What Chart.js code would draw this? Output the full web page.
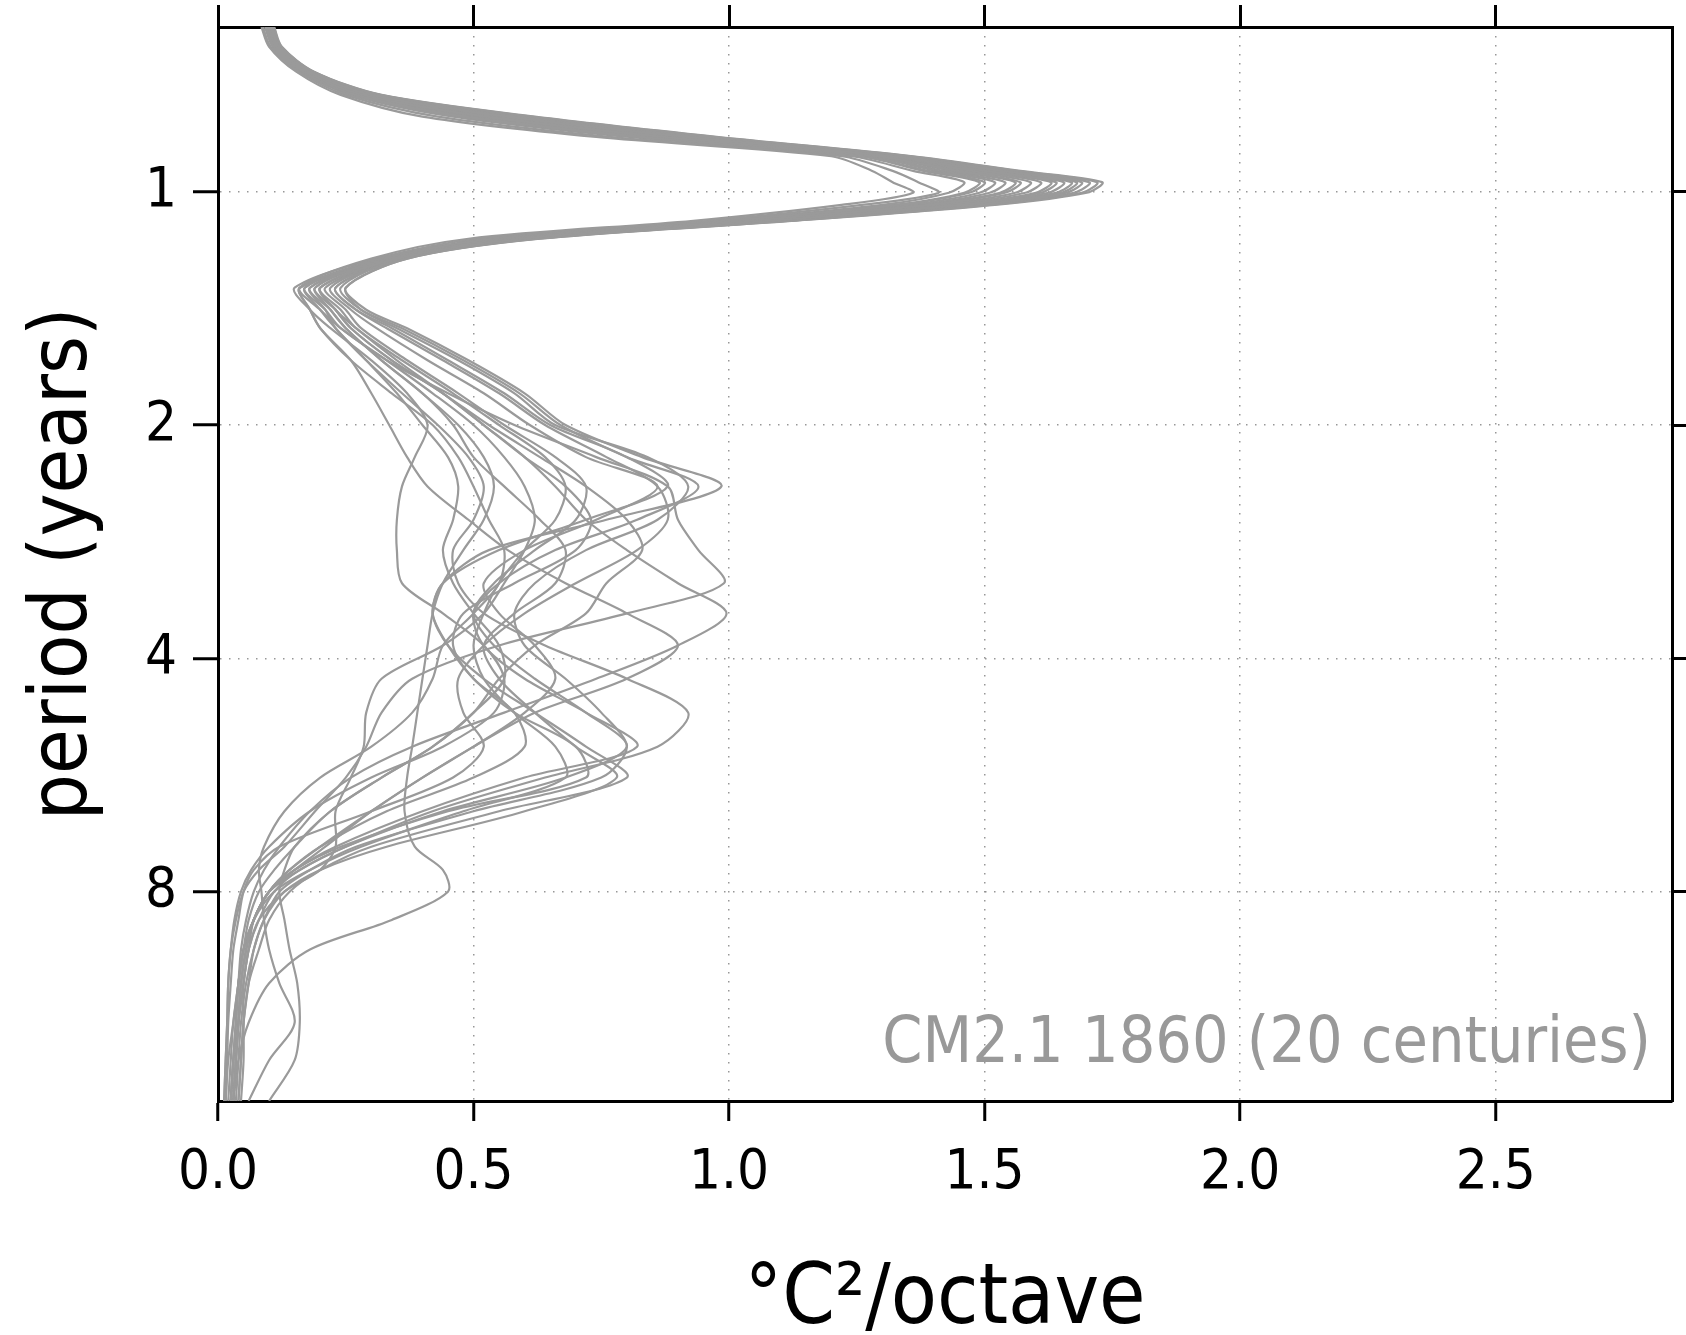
<!DOCTYPE html>
<html><head><meta charset="utf-8">
<script src="https://cdn.jsdelivr.net/npm/chart.js@4"></script>
<style>html,body{margin:0;padding:0;background:#fff;}canvas{display:block;}</style>
</head><body>
<canvas id="c" width="1686" height="1335"></canvas>
<script>
// period grid (years) shared by every century's spectrum
const periods = [0.613,0.65,0.7,0.75,0.8,0.85,0.9,0.94,0.972,1.003,1.04,1.09,1.15,1.22,1.33,1.42,1.5,1.65,1.82,2.0,2.2,2.4,2.65,2.9,3.2,3.5,3.85,4.25,4.7,5.2,5.7,6.3,7.0,7.5,8.0,8.7,9.5,10.5,11.8,13.2,14.9];

// variance (°C²/octave) for each of the 20 centuries, at the periods above
const c01 = [0.11,0.125,0.188,0.32,0.62,0.98,1.36,1.57,1.73,1.70,1.52,1.13,0.63,0.37,0.25,0.29,0.37,0.49,0.6,0.68,0.83,0.985,0.76,0.53,0.44,0.42,0.45,0.5,0.58,0.7,0.72,0.45,0.24,0.15,0.1,0.07,0.055,0.045,0.04,0.035,0.03];
const c02 = [0.085,0.10,0.153,0.24,0.40,0.74,1.2,1.28,1.32,1.36,1.22,0.93,0.49,0.30,0.16,0.2,0.24,0.33,0.45,0.58,0.74,0.88,0.9,0.94,0.99,0.8,0.55,0.38,0.32,0.29,0.25,0.19,0.13,0.08,0.05,0.035,0.025,0.02,0.018,0.015,0.012];
const c03 = [0.104,0.119,0.18,0.30,0.567,0.92,1.32,1.50,1.64,1.61,1.45,1.08,0.596,0.35,0.2,0.23,0.27,0.35,0.44,0.52,0.6,0.66,0.72,0.8,0.9,0.995,0.9,0.74,0.56,0.38,0.26,0.18,0.12,0.09,0.07,0.055,0.045,0.04,0.035,0.03,0.025];
const c04 = [0.099,0.114,0.173,0.285,0.525,0.876,1.29,1.445,1.57,1.54,1.39,1.04,0.57,0.34,0.18,0.21,0.23,0.29,0.36,0.43,0.49,0.52,0.5,0.46,0.47,0.52,0.64,0.8,0.92,0.86,0.64,0.42,0.25,0.16,0.11,0.08,0.06,0.05,0.04,0.035,0.03];
const c05 = [0.088,0.103,0.158,0.25,0.43,0.77,1.22,1.32,1.37,1.41,1.26,0.96,0.51,0.31,0.15,0.18,0.22,0.3,0.37,0.41,0.385,0.36,0.35,0.35,0.36,0.44,0.52,0.56,0.54,0.44,0.3,0.18,0.1,0.065,0.045,0.032,0.025,0.02,0.018,0.015,0.012];
const c06 = [0.094,0.109,0.166,0.27,0.483,0.83,1.26,1.39,1.50,1.47,1.33,1.0,0.54,0.33,0.19,0.22,0.25,0.32,0.4,0.47,0.52,0.54,0.52,0.48,0.44,0.42,0.41,0.4,0.39,0.38,0.37,0.365,0.385,0.44,0.45,0.34,0.18,0.1,0.06,0.04,0.03];
const c07 = [0.107,0.122,0.183,0.31,0.59,0.95,1.34,1.53,1.68,1.65,1.48,1.10,0.61,0.36,0.24,0.28,0.36,0.48,0.59,0.67,0.8,0.94,0.82,0.66,0.55,0.5,0.52,0.6,0.72,0.82,0.6,0.4,0.23,0.15,0.1,0.07,0.055,0.045,0.04,0.035,0.03];
const c08 = [0.092,0.107,0.162,0.26,0.46,0.805,1.24,1.36,1.46,1.43,1.30,0.98,0.53,0.32,0.17,0.21,0.24,0.33,0.42,0.5,0.56,0.6,0.62,0.6,0.56,0.52,0.44,0.32,0.29,0.285,0.26,0.23,0.23,0.2,0.13,0.08,0.06,0.05,0.04,0.03,0.025];
const c09 = [0.102,0.117,0.177,0.294,0.55,0.90,1.31,1.476,1.61,1.58,1.42,1.065,0.585,0.35,0.2,0.23,0.26,0.34,0.44,0.53,0.63,0.72,0.8,0.83,0.76,0.72,0.62,0.55,0.5,0.42,0.32,0.22,0.15,0.11,0.08,0.06,0.05,0.04,0.035,0.03,0.025];
const c10 = [0.107,0.122,0.184,0.31,0.596,0.954,1.343,1.54,1.69,1.66,1.49,1.11,0.615,0.36,0.23,0.27,0.34,0.45,0.56,0.65,0.8,0.88,0.72,0.55,0.44,0.42,0.45,0.52,0.62,0.72,0.8,0.55,0.3,0.2,0.14,0.1,0.08,0.06,0.05,0.045,0.04];
const c11 = [0.096,0.111,0.168,0.275,0.495,0.844,1.27,1.405,1.52,1.49,1.35,1.016,0.55,0.33,0.18,0.22,0.25,0.32,0.4,0.46,0.5,0.56,0.63,0.68,0.66,0.58,0.52,0.55,0.62,0.7,0.78,0.6,0.33,0.2,0.13,0.09,0.07,0.055,0.045,0.04,0.035];
const c12 = [0.105,0.12,0.181,0.304,0.575,0.93,1.33,1.51,1.655,1.625,1.46,1.09,0.6,0.355,0.22,0.26,0.31,0.41,0.52,0.61,0.72,0.86,0.74,0.6,0.52,0.55,0.62,0.66,0.6,0.5,0.4,0.3,0.2,0.14,0.1,0.07,0.05,0.04,0.035,0.03,0.025];
const c13 = [0.097,0.112,0.17,0.279,0.507,0.857,1.278,1.42,1.54,1.51,1.366,1.027,0.558,0.33,0.16,0.18,0.2,0.26,0.3,0.335,0.37,0.41,0.49,0.567,0.68,0.8,0.9,0.8,0.62,0.5,0.4,0.3,0.21,0.15,0.1,0.07,0.055,0.045,0.04,0.035,0.03];
const c14 = [0.109,0.124,0.187,0.318,0.614,0.974,1.356,1.562,1.72,1.69,1.51,1.125,0.626,0.37,0.25,0.28,0.35,0.47,0.58,0.66,0.84,0.92,0.86,0.72,0.62,0.58,0.6,0.68,0.75,0.8,0.75,0.5,0.27,0.18,0.12,0.09,0.07,0.06,0.05,0.045,0.04];
const c15 = [0.094,0.109,0.165,0.268,0.477,0.824,1.256,1.38,1.49,1.46,1.325,1.0,0.54,0.325,0.17,0.2,0.23,0.29,0.35,0.4,0.45,0.47,0.46,0.44,0.46,0.5,0.55,0.56,0.5,0.42,0.32,0.22,0.15,0.13,0.12,0.13,0.14,0.155,0.16,0.15,0.1];
const c16 = [0.103,0.118,0.179,0.298,0.56,0.915,1.317,1.492,1.63,1.60,1.44,1.076,0.59,0.35,0.2,0.24,0.27,0.36,0.46,0.55,0.64,0.68,0.66,0.6,0.55,0.52,0.5,0.52,0.58,0.66,0.68,0.48,0.28,0.18,0.11,0.07,0.05,0.04,0.03,0.02,0.015];
const c17 = [0.101,0.116,0.175,0.29,0.537,0.89,1.3,1.46,1.59,1.56,1.407,1.054,0.577,0.34,0.19,0.23,0.26,0.34,0.44,0.52,0.6,0.68,0.73,0.7,0.58,0.48,0.46,0.5,0.58,0.6,0.5,0.33,0.2,0.14,0.1,0.07,0.06,0.05,0.05,0.05,0.045];
const c18 = [0.106,0.121,0.182,0.307,0.584,0.94,1.334,1.523,1.67,1.64,1.47,1.1,0.607,0.36,0.21,0.25,0.28,0.37,0.47,0.56,0.66,0.72,0.7,0.62,0.54,0.5,0.54,0.62,0.72,0.8,0.68,0.44,0.25,0.16,0.1,0.07,0.05,0.04,0.03,0.025,0.02];
const c19 = [0.099,0.114,0.172,0.283,0.52,0.87,1.286,1.437,1.56,1.53,1.38,1.038,0.566,0.335,0.16,0.18,0.2,0.26,0.34,0.42,0.47,0.5,0.53,0.56,0.55,0.5,0.44,0.42,0.38,0.3,0.2,0.13,0.09,0.08,0.085,0.09,0.1,0.12,0.15,0.1,0.06];
const c20 = [0.108,0.123,0.186,0.315,0.605,0.964,1.35,1.55,1.705,1.675,1.50,1.116,0.62,0.365,0.23,0.27,0.33,0.44,0.55,0.64,0.76,0.86,0.88,0.82,0.7,0.6,0.52,0.47,0.48,0.52,0.46,0.3,0.12,0.07,0.05,0.04,0.03,0.025,0.02,0.018,0.015];

// tick labels / texts
const xTickValues = [0, 0.5, 1.0, 1.5, 2.0, 2.5];
const yTickValues = [1, 2, 4, 8];
const xTitle = '°C²/octave';
const yTitle = 'period (years)';
const annotationText = 'CM2.1 1860 (20 centuries)';

const FONT = '"DejaVu Sans Condensed", "Liberation Sans Narrow", "DejaVu Sans", sans-serif';
const X_MIN = 0, X_MAX = 2.845, Y_MIN = 0.613, Y_MAX = 14.9;
const LINE = '#9a9a9a';

const seriesList = [c01,c02,c03,c04,c05,c06,c07,c08,c09,c10,c11,c12,c13,c14,c15,c16,c17,c18,c19,c20];
const datasets = seriesList.map((s, k) => ({
  label: 'century ' + (k + 1),
  data: s.map((v, i) => ({x: v, y: periods[i]})),
  borderColor: LINE,
  borderWidth: 2.2,
  pointRadius: 0,
  showLine: true,
  tension: 0.3,
  fill: false
}));

const annotationPlugin = {
  id: 'annotationText',
  afterDatasetsDraw(chart) {
    const {ctx, chartArea: a} = chart;
    ctx.save();
    ctx.font = '64px ' + FONT;
    ctx.fillStyle = '#999999';
    ctx.textAlign = 'right';
    ctx.textBaseline = 'alphabetic';
    ctx.fillText(annotationText, a.right - 21, a.bottom - 39);
    ctx.restore();
  }
};

const zeroPad = s => { s.paddingTop = 0; s.paddingBottom = 0; s.paddingLeft = 0; s.paddingRight = 0; };
const fixX = s => { s.ticks = xTickValues.map(v => ({value: v})); s.min = X_MIN; s.max = X_MAX; };
const fixY = s => { s.ticks = yTickValues.map(v => ({value: v})); s.min = Y_MIN; s.max = Y_MAX; };
const dotted = [1.5, 7.5];
new Chart(document.getElementById('c'), {
  type: 'scatter',
  data: {datasets},
  plugins: [annotationPlugin],
  options: {
    responsive: false,
    animation: false,
    devicePixelRatio: 1,
    layout: {padding: 0},
    plugins: {legend: {display: false}, tooltip: {enabled: false}},
    scales: {
      x: {
        type: 'linear', position: 'bottom', min: X_MIN, max: X_MAX, bounds: 'data',
        afterBuildTicks: fixX,
        ticks: {font: {family: FONT, size: 56}, color: '#000', padding: 19, maxRotation: 0, autoSkip: false,
                callback: v => Number(v).toFixed(1)},
        grid: {color: 'rgba(140,140,140,0.9)', lineWidth: 1.5, tickColor: '#000', tickWidth: 3, tickLength: 20},
        border: {display: true, color: '#000', width: 3, dash: dotted},
        title: {display: true, text: xTitle, color: '#000', font: {family: FONT, size: 84, lineHeight: 0.8}, padding: {top: 0, bottom: 0}},
        afterFit: s => { s.height = 234; zeroPad(s); }
      },
      x2: {
        type: 'linear', position: 'top', min: X_MIN, max: X_MAX, bounds: 'data',
        afterBuildTicks: fixX,
        ticks: {display: false},
        grid: {drawOnChartArea: false, tickColor: '#000', tickWidth: 3, tickLength: 22},
        border: {display: true, color: '#000', width: 3},
        afterFit: s => { s.height = 27; zeroPad(s); }
      },
      y: {
        type: 'logarithmic', position: 'left', reverse: true, min: Y_MIN, max: Y_MAX, bounds: 'data',
        afterBuildTicks: fixY,
        ticks: {font: {family: FONT, size: 56}, color: '#000', padding: 16, autoSkip: false,
                callback: v => String(v)},
        grid: {color: 'rgba(140,140,140,0.9)', lineWidth: 1.5, tickColor: '#000', tickWidth: 3, tickLength: 25},
        border: {display: true, color: '#000', width: 3, dash: dotted},
        title: {display: true, text: yTitle, color: '#000', font: {family: FONT, size: 81}, padding: {top: 16, bottom: 0}},
        afterFit: s => { s.width = 218; zeroPad(s); }
      },
      y2: {
        type: 'logarithmic', position: 'right', reverse: true, min: Y_MIN, max: Y_MAX, bounds: 'data',
        afterBuildTicks: fixY,
        ticks: {display: false},
        grid: {drawOnChartArea: false, tickColor: '#000', tickWidth: 3, tickLength: 20},
        border: {display: true, color: '#000', width: 3},
        afterFit: s => { s.width = 14; zeroPad(s); }
      }
    }
  }
});
</script>
</body></html>
